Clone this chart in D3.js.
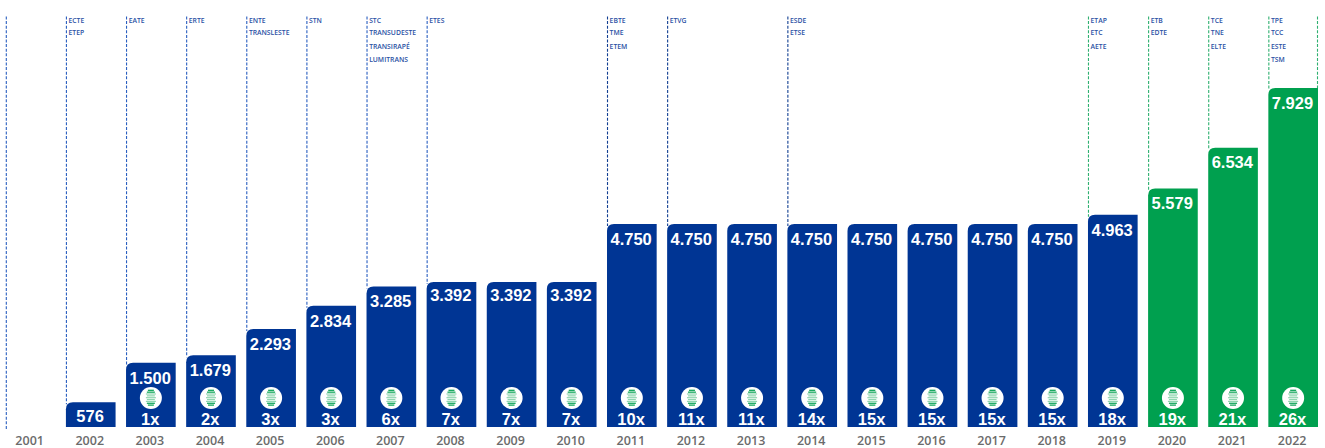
<!DOCTYPE html>
<html><head><meta charset="utf-8">
<script src="https://cdnjs.cloudflare.com/ajax/libs/d3/7.8.5/d3.min.js"></script>
<style>html,body{margin:0;background:#fff}svg{display:block}</style></head>
<body><svg id="c" width="1325" height="448"></svg>
<script>
// Accumulated transmission capacity per year, with concession counts and company names
const years = [2001,2002,2003,2004,2005,2006,2007,2008,2009,2010,2011,2012,2013,2014,2015,2016,2017,2018,2019,2020,2021,2022];
const values = [0,576,1500,1679,2293,2834,3285,3392,3392,3392,4750,4750,4750,4750,4750,4750,4750,4750,4963,5579,6534,7929];
const labels = ["","576","1.500","1.679","2.293","2.834","3.285","3.392","3.392","3.392","4.750","4.750","4.750","4.750","4.750","4.750","4.750","4.750","4.963","5.579","6.534","7.929"];
const counts = [null,null,"1x","2x","3x","3x","6x","7x","7x","7x","10x","11x","11x","14x","15x","15x","15x","15x","18x","19x","21x","26x"];
const companies = [[],["ECTE","ETEP"],["EATE"],["ERTE"],["ENTE","TRANSLESTE"],["STN"],["STC","TRANSUDESTE","TRANSIRAPÉ","LUMITRANS"],["ETES"],[],[],["EBTE","TME","ETEM"],["ETVG"],[],["ESDE","ETSE"],[],[],[],[],["ETAP","ETC","AETE"],["ETB","EDTE"],["TCE","TNE","ELTE"],["TPE","TCC","ESTE","TSM"]];

const BLUE = "#003594", GREEN = "#00a04f";
const svg = d3.select("#c");
const x = d3.scaleBand().domain(years).range([5.8,1318]).paddingInner(0.174).paddingOuter(0).align(0);
const y = d3.scaleLinear().domain([0,7929]).range([427,88]);
const barColour = yr => yr >= 2020 ? GREEN : BLUE;
const lineColour = yr => yr >= 2019 ? "#2fb070" : (yr === 2011 || yr === 2012 || yr === 2014 ? "#123f92" : "#2a5fc0");
const dash = "3 1.6";

// Dashed guide at the left edge of each year holding names, plus one closing the last bar
const guides = years.filter((yr,i) => companies[i].length || yr === 2001);
svg.selectAll("line.guide").data(guides).join("line").attr("class","guide")
  .attr("x1",d=>x(d)+.5).attr("x2",d=>x(d)+.5).attr("y1",16.5).attr("y2",d=>y(values[years.indexOf(d)])+2)
  .attr("stroke",lineColour).attr("stroke-width",1.1).attr("stroke-dasharray",dash);
svg.append("line").attr("x1",x(2022)+x.bandwidth()-.5).attr("x2",x(2022)+x.bandwidth()-.5).attr("y1",16.5).attr("y2",y(7929))
  .attr("stroke","#2fb070").attr("stroke-width",1.1).attr("stroke-dasharray",dash);

// Bars with a rounded top-left corner
const bars = years.map((yr,i)=>({yr,v:values[i],i})).filter(d=>d.v>0);
svg.selectAll("path.bar").data(bars).join("path").attr("class","bar")
  .attr("fill",d=>barColour(d.yr))
  .attr("d",d=>{const l=x(d.yr),r=l+x.bandwidth(),t=y(d.v),b=y(0),c=7;
    return `M${l},${b}V${t+c}Q${l},${t} ${l+c},${t}H${r}V${b}Z`;});

// Capacity value at the top of each bar
svg.selectAll("text.val").data(bars).join("text").attr("class","val")
  .attr("x",d=>x(d.yr)+x.bandwidth()/2-0.7).attr("y",d=>y(d.v)+(d.v===3392||d.v===576?19.5:20.7))
  .attr("text-anchor","middle").attr("fill","#fff")
  .attr("font-family","Liberation Sans, Arial, sans-serif").attr("font-weight",700).attr("font-size",16.5)
  .text(d=>labels[d.i]);

// Concession count with a round insulator badge above it
const withCount = bars.filter(d=>counts[d.i]);
svg.selectAll("text.cnt").data(withCount).join("text").attr("class","cnt")
  .attr("x",d=>x(d.yr)+x.bandwidth()/2-0.7).attr("y",424.5)
  .attr("text-anchor","middle").attr("fill","#fff")
  .attr("font-family","Liberation Sans, Arial, sans-serif").attr("font-weight",700).attr("font-size",16.5)
  .text(d=>counts[d.i]);
const discWidths = [6,8,10,8,10,8,10,8,6];
const badge = svg.selectAll("g.badge").data(withCount).join("g").attr("class","badge")
  .attr("transform",d=>`translate(${x(d.yr)+x.bandwidth()/2},398)`);
badge.append("circle").attr("r",11).attr("fill","#fff");
badge.each(function(){
  d3.select(this).selectAll("rect").data(discWidths).join("rect")
    .attr("x",w=>-w/2).attr("width",w=>w)
    .attr("y",(w,i)=>-8.3+i*1.85).attr("height",1.2)
    .attr("fill",(w,i)=>(i<2||i>6)?"#00a04f":"#8fd6b0");
});

// Company names beside the guides
const rows = [22.6,34.6,48.6,61.6];
const names = companies.flatMap((list,i)=>list.map((name,j)=>({name,j,yr:years[i]})));
svg.selectAll("text.name").data(names).join("text").attr("class","name")
  .attr("x",d=>x(d.yr)+2.6).attr("y",d=>rows[d.j])
  .attr("fill","#2a50a4").attr("font-family","Open Sans, sans-serif").attr("font-weight",600).attr("font-size",6.8)
  .text(d=>d.name);

// Year axis
const axis = d3.axisBottom(x).tickSize(0).tickPadding(0);
const ax = svg.append("g").attr("transform","translate(-1,432)").call(axis);
ax.select(".domain").remove();
ax.selectAll("text").attr("y",12.6).attr("dy",0).attr("fill","#6b6b6b")
  .attr("font-family","Open Sans, sans-serif").attr("font-weight",600).attr("font-size",12.5);
</script></body></html>
